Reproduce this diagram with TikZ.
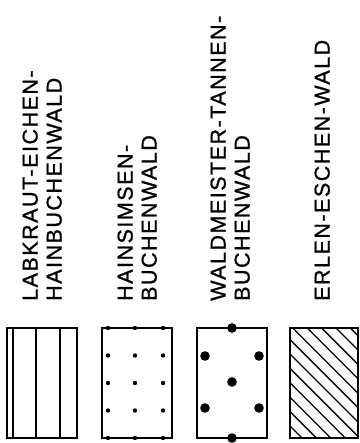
\documentclass[tikz,border=0pt]{standalone}
\usepackage{fontspec}
\setmainfont{Liberation Sans}[LetterSpace=7, FakeBold=1]
\usepackage{tikz}
\usetikzlibrary{positioning}

\begin{document}
\begin{tikzpicture}[
  x=1pt, y=-1pt,
  legend/.style={draw, line width=1.6pt, minimum width=70pt, minimum height=110pt, inner sep=0pt, outer sep=0pt, anchor=north west},
  caption/.style={rotate=90, anchor=south west, align=left, inner sep=0pt, font=\fontsize{21.5}{24}\selectfont},
  fine/.style={line width=1.3pt},
  dot/.style={fill=black}
]
  \useasboundingbox (0,0) rectangle (359,443);

  % Legend boxes
  \node[legend] (lek) at (7,328) {};
  \node[legend] (hbw) at (102,328) {};
  \node[legend] (wtb) at (197,328) {};
  \node[legend, minimum width=68pt] (eew) at (290,328) {};

  % Captions
  \node[caption] (lekt) at (62,301) {LABKRAUT-EICHEN-\\HAINBUCHENWALD};
  \node[caption] (hbwt) at (157,301) {HAINSIMSEN-\\BUCHENWALD};
  \node[caption] (wtbt) at (250,301) {WALDMEISTER-TANNEN-\\BUCHENWALD};
  \node[caption] (eewt) at (330,301) {ERLEN-ESCHEN-WALD};

  % Stripes
  \draw[fine] ([xshift=6pt]lek.north west) -- ([xshift=6pt]lek.south west);
  \draw[fine] ([xshift=29pt]lek.north west) -- ([xshift=29pt]lek.south west);
  \draw[fine] ([xshift=53pt]lek.north west) -- ([xshift=53pt]lek.south west);

  % Small dots
  \foreach \x in {108,135,163}
    \foreach \y in {328,355.5,383,410.5,438}
      \fill[dot] (\x,\y) circle (2.2);

  % Large dots
  \foreach \p in {(232,328),(205,356),(259,356),(232,382),(205,408),(259,408),(232,438)}
    \fill[dot] \p circle (4.8);

  % Hatching
  \begin{scope}
    \clip (eew.north west) rectangle (eew.south east);
    \foreach \c in {-136,-121.6,...,24}
      \draw[fine] ({\c+318},318) -- ({\c+448},448);
  \end{scope}
\end{tikzpicture}
\end{document}
